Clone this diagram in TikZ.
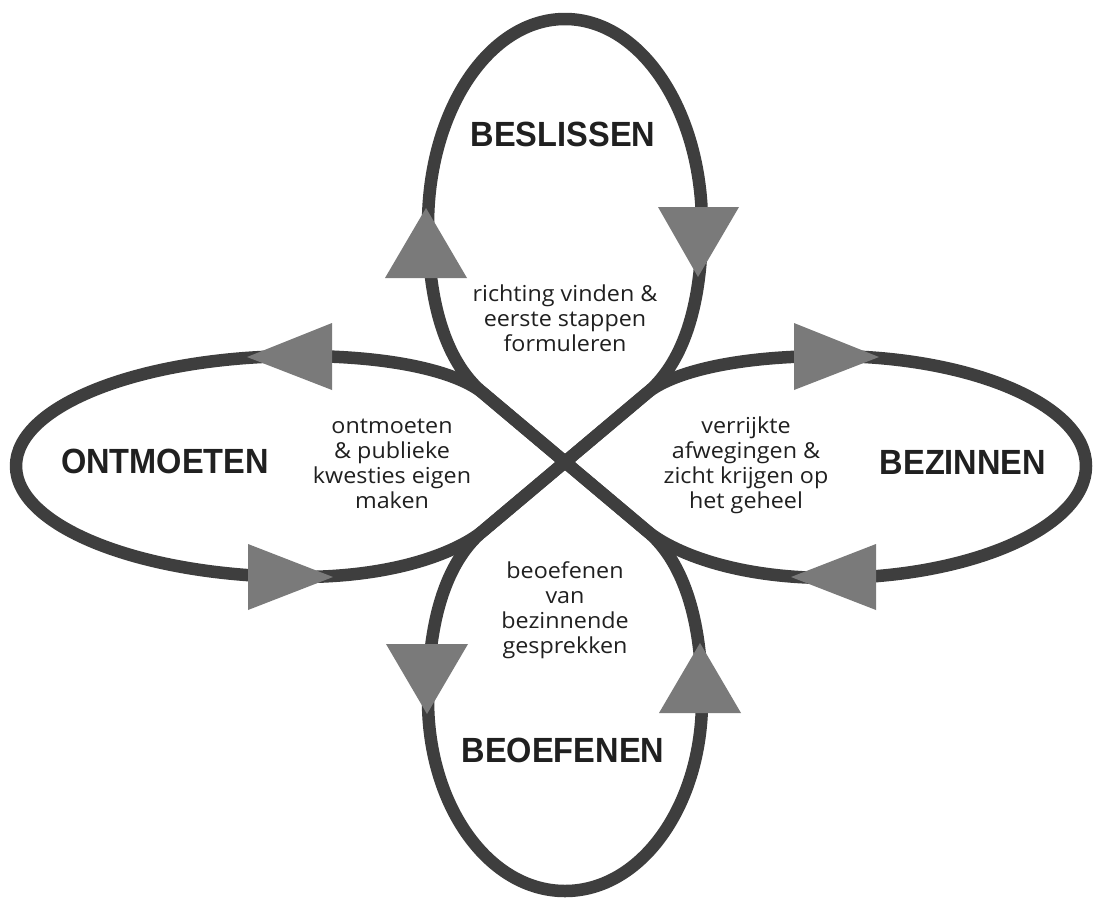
\documentclass[tikz,border=0pt]{standalone}
\usepackage{fontspec}
\newfontfamily\titlefont{Liberation Sans}[FakeStretch=0.93]
\newfontfamily\bodyfont{Open Sans}[FakeStretch=1.06]
\definecolor{loopgray}{HTML}{3E3E3E}
\definecolor{arrowgray}{HTML}{7A7A7A}
\definecolor{textdark}{HTML}{202020}
\begin{document}
\begin{tikzpicture}[x=1pt,y=-1pt,
  loopline/.style={draw=loopgray,line width=12.5pt,line cap=round,line join=round},
  arrowtri/.style={fill=arrowgray},
  title/.style={text=textdark,font=\titlefont\bfseries\fontsize{35}{35}\selectfont,inner sep=0pt},
  body/.style={text=textdark,font=\bodyfont\fontsize{22}{25}\selectfont,align=center,inner sep=0pt}]
\useasboundingbox (0,0) rectangle (1094,902);
\fill[white] (0,0) rectangle (1094,902);
\coordinate (c) at (565,462);
\coordinate (jnw) at (483,393);
\coordinate (jne) at (647,393);
\coordinate (jsw) at (483,531);
\coordinate (jse) at (647,531);
% top loop
\draw[loopline] (c) -- (jnw) .. controls (460,374) and (428,330) .. (428,225)
  .. controls (428,111) and (489,19) .. (565,19)
  .. controls (641,19) and (702,111) .. (702,225)
  .. controls (702,330) and (670,374) .. (jne) -- (c);
% bottom loop
\draw[loopline] (c) -- (jsw) .. controls (460,550) and (428,594) .. (428,700)
  .. controls (428,806) and (489,891) .. (565,891)
  .. controls (641,891) and (702,806) .. (702,700)
  .. controls (702,594) and (670,550) .. (jse) -- (c);
% left loop
\draw[loopline] (c) -- (jnw) .. controls (460,374) and (400,356) .. (300,356)
  .. controls (143,356) and (16,405) .. (16,466)
  .. controls (16,527) and (143,577) .. (300,577)
  .. controls (400,577) and (460,550) .. (jsw) -- (c);
% right loop
\draw[loopline] (c) -- (jne) .. controls (670,374) and (730,356) .. (830,356)
  .. controls (971,356) and (1086,405) .. (1086,466)
  .. controls (1086,527) and (971,578) .. (830,578)
  .. controls (730,578) and (670,550) .. (jse) -- (c);
% arrowheads
\fill[arrowtri] (385,278) -- (426,208) -- (467,278) -- cycle;
\fill[arrowtri] (658,207) -- (739,207) -- (698,277) -- cycle;
\fill[arrowtri] (386,644) -- (468,644) -- (427,714) -- cycle;
\fill[arrowtri] (659,713) -- (741,713) -- (700,643) -- cycle;
\fill[arrowtri] (332,323) -- (247,357) -- (332,390) -- cycle;
\fill[arrowtri] (248,544) -- (333,577) -- (248,610) -- cycle;
\fill[arrowtri] (794,323) -- (879,357) -- (794,390) -- cycle;
\fill[arrowtri] (876,544) -- (791,577) -- (876,610) -- cycle;
% titles
\node[title] (beslissen) at (563,134) {BESLISSEN};
\node[title] (ontmoeten) at (165,461) {ONTMOETEN};
\node[title] (bezinnen) at (963,462) {BEZINNEN};
\node[title] (beoefenen) at (563,750) {BEOEFENEN};
% descriptions
\node[body] (dtop) at (565,318) {richting vinden \&\\eerste stappen\\formuleren};
\node[body] (dleft) at (392,464) {ontmoeten\\\& publieke\\kwesties eigen\\maken};
\node[body] (dright) at (746,465) {verrijkte\\afwegingen \&\\zicht krijgen op\\het geheel};
\node[body] (dbottom) at (565,610) {beoefenen\\van\\bezinnende\\gesprekken};
\end{tikzpicture}
\end{document}
